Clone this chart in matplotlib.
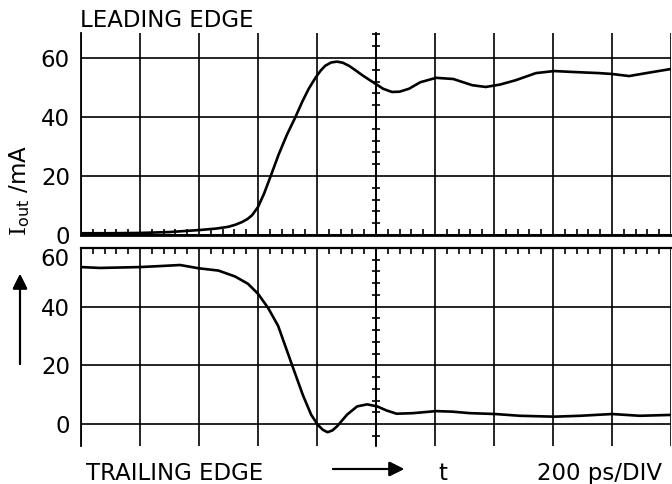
import numpy as np
import matplotlib.pyplot as plt
from matplotlib.ticker import MultipleLocator

# time in divisions (200 ps/DIV), current in mA
lead_t = [0.0, 0.5, 1.0, 1.5, 2.02, 2.3, 2.5, 2.62, 2.73, 2.82, 2.9, 3.0, 3.1, 3.21,
          3.35, 3.49, 3.63, 3.75, 3.86, 3.98, 4.06, 4.14, 4.24, 4.34, 4.44, 4.54, 4.65,
          4.76, 4.88, 4.99, 5.12, 5.27, 5.4, 5.56, 5.75, 6.02, 6.31, 6.63, 6.86, 7.1,
          7.37, 7.71, 8.02, 8.32, 8.78, 9.0, 9.29, 9.58, 10.0]
lead_i = [0.6, 0.6, 0.7, 1.0, 1.7, 2.2, 2.8, 3.5, 4.4, 5.4, 6.7, 9.5, 13.9, 19.7,
          27.3, 34.0, 39.8, 45.2, 49.6, 53.5, 55.7, 57.4, 58.5, 58.8, 58.4, 57.4, 55.9,
          54.3, 52.7, 51.3, 49.6, 48.5, 48.6, 49.6, 51.8, 53.3, 52.9, 50.8, 50.2, 51.0,
          52.5, 54.9, 55.6, 55.3, 54.9, 54.6, 53.9, 54.9, 56.3]

trail_t = [0.0, 0.32, 1.0, 1.4, 1.68, 1.99, 2.33, 2.61, 2.83, 3.0, 3.17, 3.34, 3.48,
           3.62, 3.76, 3.9, 4.01, 4.1, 4.18, 4.26, 4.34, 4.51, 4.68, 4.85, 5.02, 5.18,
           5.35, 5.63, 6.02, 6.3, 6.59, 7.02, 7.44, 8.02, 8.46, 9.0, 9.47, 10.0]
trail_i = [53.5, 53.2, 53.5, 53.9, 54.2, 53.1, 52.3, 50.3, 47.8, 44.4, 39.6, 33.5, 25.6,
           17.7, 9.9, 3.2, -0.2, -2.0, -2.8, -2.2, -0.8, 3.2, 6.0, 6.7, 6.0, 4.6,
           3.5, 3.7, 4.4, 4.2, 3.7, 3.4, 2.8, 2.5, 2.8, 3.4, 2.8, 3.1]

yticks = [0, 20, 40, 60]

plt.rcParams["font.family"] = "DejaVu Sans"
plt.rcParams["mathtext.fontset"] = "dejavuserif"
fs = 16.5
W, H = 672, 484
fig = plt.figure(figsize=(W / 100, H / 100), dpi=100)

left = 81 / W
width = 590 / W
ax1 = fig.add_axes([left, 1 - 235 / H, width, (235 - 33) / H])
ax2 = fig.add_axes([left, 1 - 446 / H, width, (446 - 248) / H])

for ax in (ax1, ax2):
    ax.set_xlim(0, 10)
    ax.set_xticks(range(0, 11))
    ax.xaxis.set_minor_locator(MultipleLocator(0.2))
    ax.set_yticks(yticks)
    ax.yaxis.set_minor_locator(MultipleLocator(4))
    ax.grid(True, which="major", color="k", lw=1.2)
    ax.spines["left"].set_linewidth(1.3)
    # centre graticule line with its small division marks
    ax.spines["right"].set_position(("data", 5))
    ax.spines["right"].set_linewidth(1.3)
    ax.tick_params(axis="x", which="major", length=0, labelbottom=False)
    ax.tick_params(axis="y", which="major", left=True, right=False, length=0,
                   labelsize=fs, pad=8)
    ax.tick_params(axis="y", which="minor", left=False, right=True,
                   direction="inout", length=6, width=1.2)
    ax.set_facecolor("none")

ax1.set_ylim(0, 68.5)
ax1.spines["top"].set_visible(False)
ax1.spines["bottom"].set_linewidth(2.0)
ax1.tick_params(axis="x", which="minor", bottom=True, top=False,
                direction="in", length=4, width=1.2)
ax1.plot(lead_t, lead_i, color="k", lw=1.9, solid_joinstyle="round")

ax2.set_ylim(-7.5, 60)
ax2.spines["bottom"].set_visible(False)
ax2.spines["top"].set_linewidth(1.6)
ax2.tick_params(axis="x", which="minor", bottom=False, top=True,
                direction="in", length=4, width=1.2)
ax2.get_yticklabels()[-1].set_va("top")
ax2.plot(trail_t, trail_i, color="k", lw=1.9, solid_joinstyle="round")

fig.text(80 / W, 1 - 27 / H, "LEADING EDGE", fontsize=fs, va="baseline")
fig.text(86 / W, 1 - 480 / H, "TRAILING EDGE", fontsize=fs, va="baseline")
fig.text(443 / W, 1 - 480 / H, "t", fontsize=fs, va="baseline", ha="center")
fig.text(537 / W, 1 - 480 / H, "200 ps/DIV", fontsize=fs, va="baseline")
fig.text(20 / W, 1 - 191 / H, r"$\mathrm{I}_{\mathsf{out}}$ /mA", fontsize=fs,
         rotation=90, ha="center", va="center")

fig.add_artist(plt.annotate("", xy=(404 / W, 1 - 469 / H), xytext=(333 / W, 1 - 469 / H),
                            xycoords="figure fraction",
                            arrowprops=dict(arrowstyle="-|>", lw=1.5, color="k",
                                            mutation_scale=22, shrinkA=0, shrinkB=0)))
fig.add_artist(plt.annotate("", xy=(20 / W, 1 - 274 / H), xytext=(20 / W, 1 - 364 / H),
                            xycoords="figure fraction",
                            arrowprops=dict(arrowstyle="-|>", lw=1.5, color="k",
                                            mutation_scale=22, shrinkA=0, shrinkB=0)))

fig.savefig("out.png", dpi=100)
